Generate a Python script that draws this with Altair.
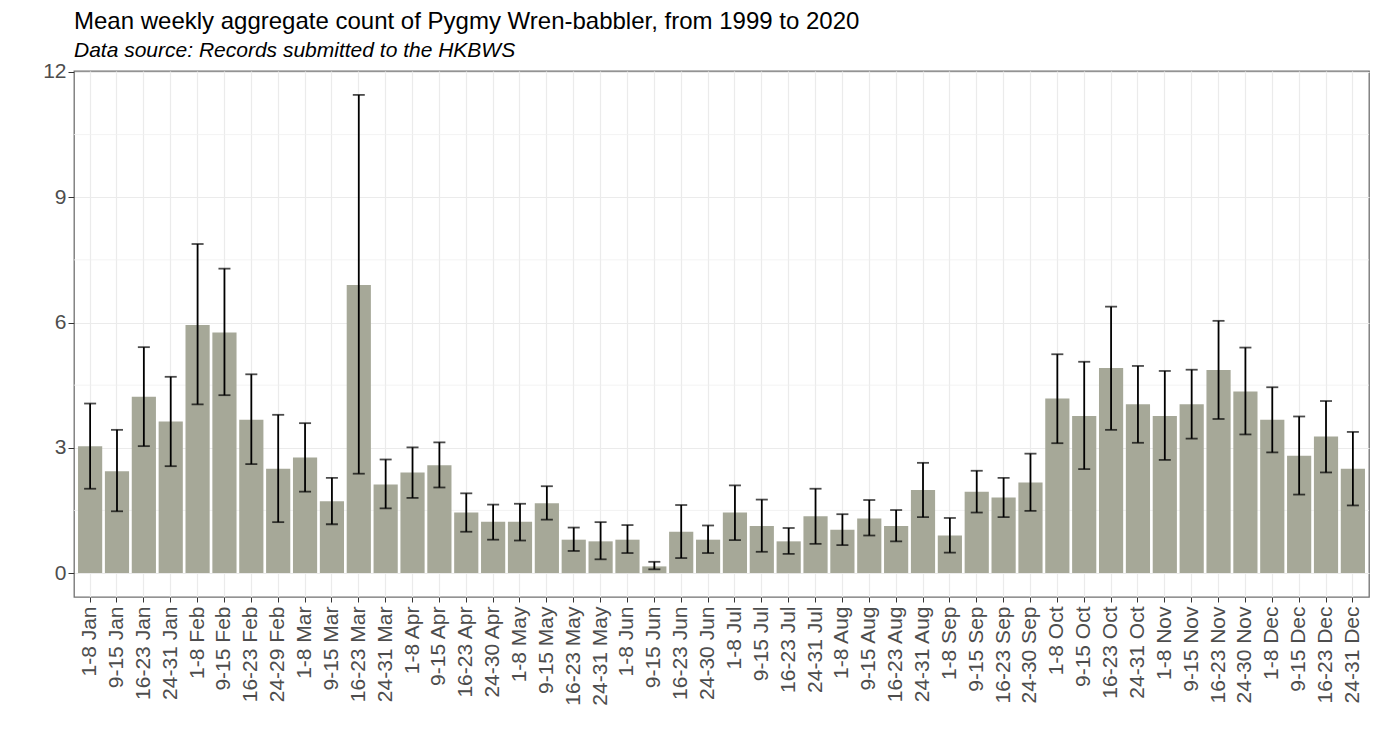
import altair as alt
import pandas as pd

labels = [
    "1-8 Jan", "9-15 Jan", "16-23 Jan", "24-31 Jan",
    "1-8 Feb", "9-15 Feb", "16-23 Feb", "24-29 Feb",
    "1-8 Mar", "9-15 Mar", "16-23 Mar", "24-31 Mar",
    "1-8 Apr", "9-15 Apr", "16-23 Apr", "24-30 Apr",
    "1-8 May", "9-15 May", "16-23 May", "24-31 May",
    "1-8 Jun", "9-15 Jun", "16-23 Jun", "24-30 Jun",
    "1-8 Jul", "9-15 Jul", "16-23 Jul", "24-31 Jul",
    "1-8 Aug", "9-15 Aug", "16-23 Aug", "24-31 Aug",
    "1-8 Sep", "9-15 Sep", "16-23 Sep", "24-30 Sep",
    "1-8 Oct", "9-15 Oct", "16-23 Oct", "24-31 Oct",
    "1-8 Nov", "9-15 Nov", "16-23 Nov", "24-30 Nov",
    "1-8 Dec", "9-15 Dec", "16-23 Dec", "24-31 Dec",
]

means = [
    3.04, 2.44, 4.22, 3.63,
    5.94, 5.76, 3.67, 2.50,
    2.77, 1.72, 6.90, 2.12,
    2.41, 2.58, 1.45, 1.23,
    1.23, 1.67, 0.80, 0.76,
    0.80, 0.16, 0.99, 0.80,
    1.45, 1.13, 0.76, 1.36,
    1.04, 1.31, 1.13, 1.99,
    0.90, 1.95, 1.81, 2.17,
    4.18, 3.76, 4.91, 4.04,
    3.76, 4.04, 4.86, 4.35,
    3.67, 2.81, 3.27, 2.50,
]

upper = [
    4.06, 3.43, 5.41, 4.70,
    7.88, 7.29, 4.76, 3.79,
    3.59, 2.28, 11.45, 2.72,
    3.01, 3.13, 1.91, 1.64,
    1.66, 2.08, 1.09, 1.22,
    1.15, 0.27, 1.63, 1.14,
    2.10, 1.76, 1.08, 2.02,
    1.41, 1.75, 1.51, 2.64,
    1.32, 2.45, 2.28, 2.86,
    5.24, 5.06, 6.38, 4.96,
    4.84, 4.87, 6.04, 5.40,
    4.45, 3.75, 4.12, 3.38,
]

lower = [
    2.02, 1.48, 3.04, 2.56,
    4.04, 4.26, 2.61, 1.22,
    1.95, 1.17, 2.38, 1.55,
    1.80, 2.05, 0.99, 0.80,
    0.78, 1.28, 0.53, 0.33,
    0.48, 0.09, 0.36, 0.48,
    0.79, 0.51, 0.46, 0.70,
    0.67, 0.90, 0.76, 1.34,
    0.49, 1.45, 1.34, 1.49,
    3.11, 2.49, 3.43, 3.12,
    2.71, 3.22, 3.69, 3.32,
    2.89, 1.88, 2.41, 1.62,
]

y_ticks = [0, 3, 6, 9, 12]
minor_grid = [1.5, 4.5, 7.5, 10.5]

df = pd.DataFrame({"week": labels, "mean": means, "lo": lower, "hi": upper})
minor_df = pd.DataFrame({"v": minor_grid})

FONT = "Liberation Sans"
ydom = [-0.5725, 12.0225]
yscale = alt.Scale(domain=ydom, nice=False, zero=False)

xenc = alt.X(
    "week:N",
    sort=labels,
    scale=alt.Scale(paddingInner=0.1, paddingOuter=0.15),
    axis=alt.Axis(
        title=None,
        labelAngle=-90,
        labelAlign="right",
        labelBaseline="middle",
        labelFontSize=21,
        labelFont=FONT,
        labelColor="#4D4D4D",
        labelPadding=4,
        labelBound=False,
        labelFlush=False,
        tickColor="#333333",
        tickSize=5,
        tickWidth=1,
        domain=False,
        grid=True,
        gridColor="#EBEBEB",
        gridWidth=1.2,
        bandPosition=0.5,
        labelOverlap=False,
    ),
)

base = alt.Chart(df).encode(x=xenc)

minor = alt.Chart(minor_df).mark_rule(color="#F0F0F0", strokeWidth=0.8).encode(
    y=alt.Y("v:Q", scale=yscale)
)

bars = base.mark_bar(color="#A6A898").encode(
    y=alt.Y(
        "mean:Q",
        scale=yscale,
        axis=alt.Axis(
            title=None,
            values=y_ticks,
            labelFontSize=21,
            labelFont=FONT,
            labelColor="#4D4D4D",
            labelPadding=2,
            tickColor="#333333",
            tickSize=6,
            domain=False,
            grid=True,
            gridColor="#EBEBEB",
            gridWidth=1.2,
        ),
    )
)

err = base.mark_rule(color="black", strokeWidth=1.8).encode(
    y=alt.Y("lo:Q", scale=yscale), y2="hi:Q"
)
cap_hi = base.mark_tick(color="black", thickness=1.8, size=12).encode(
    y=alt.Y("hi:Q", scale=yscale)
)
cap_lo = base.mark_tick(color="black", thickness=1.8, size=12).encode(
    y=alt.Y("lo:Q", scale=yscale)
)

chart = (
    alt.layer(minor, bars, err, cap_hi, cap_lo)
    .properties(
        width=1295,
        height=526,
        autosize=alt.AutoSizeParams(type="none"),
        padding={"left": 66, "top": 63, "right": 3, "bottom": 140},
        title=alt.Title(
            text="Mean weekly aggregate count of Pygmy Wren-babbler, from 1999 to 2020",
            subtitle="Data source: Records submitted to the HKBWS",
            anchor="start",
            frame="group",
            font=FONT,
            fontSize=24,
            fontWeight="normal",
            color="black",
            subtitleFont=FONT,
            subtitleFontSize=21,
            subtitleFontStyle="italic",
            subtitleColor="black",
            subtitlePadding=6,
            offset=0,
        ),
    )
    .configure(background="white")
    .configure_view(stroke="#707070", strokeWidth=1.3)
)

chart.save("out.html", embed_options={"renderer": "svg", "actions": False})
